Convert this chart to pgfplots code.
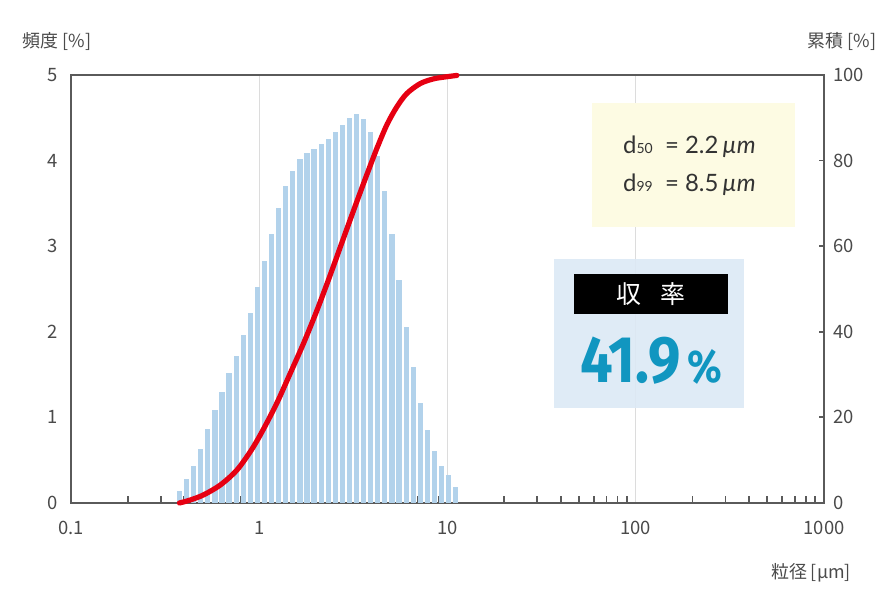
\documentclass[border=0pt]{standalone}
\usepackage{fontspec}
\usepackage{pgfplots}
\pgfplotsset{compat=1.18}
\setmainfont{Noto Sans CJK JP}
\newfontfamily\latofont{Lato}
\newfontfamily\numfont{Fira Sans}[FakeStretch=0.88]
\definecolor{axisgray}{HTML}{5A5A5A}
\definecolor{textgray}{HTML}{4A4A4A}
\definecolor{gridgray}{HTML}{DCDCDC}
\definecolor{barblue}{HTML}{B2D2EB}
\definecolor{curvered}{HTML}{E60012}
\definecolor{boxyellow}{HTML}{FDFBE3}
\definecolor{boxblue}{HTML}{DCE9F5}
\definecolor{teal}{HTML}{1196C0}

% frequency per size class (bar centre in um, frequency in %)
\pgfplotstableread{
x      f
0.3772 0.14
0.4113 0.28
0.4485 0.43
0.4891 0.63
0.5333 0.86
0.5815 1.09
0.6341 1.30
0.6914 1.52
0.7540 1.72
0.8222 1.96
0.8966 2.22
0.9779 2.52
1.0663 2.83
1.1628 3.14
1.2680 3.45
1.3827 3.70
1.5077 3.88
1.6444 4.02
1.7930 4.09
1.9554 4.14
2.1323 4.19
2.3252 4.25
2.5351 4.33
2.7645 4.42
3.0147 4.50
3.2869 4.54
3.5849 4.49
3.9089 4.33
4.2628 4.05
4.6484 3.65
5.0686 3.14
5.5271 2.61
6.0270 2.06
6.5723 1.59
7.1664 1.17
7.8163 0.85
8.5231 0.61
9.2935 0.43
10.134 0.33
11.051 0.19
}\freqtable

% cumulative curve (um, %)
\pgfplotstableread{
x     c
0.377 0.0
0.430 0.7
0.506 1.9
0.621 4.2
0.761 7.7
0.915 12.6
1.054 17.3
1.242 23.4
1.461 30.3
1.719 37.3
2.025 45.0
2.384 53.3
2.863 63.0
3.304 70.5
3.735 76.8
4.220 82.9
4.768 88.4
5.389 92.6
6.089 95.7
7.166 98.0
8.434 99.1
9.933 99.6
11.22 99.9
}\cumtable

\begin{document}
\begin{tikzpicture}
\useasboundingbox (0bp,0bp) rectangle (896bp,613bp);

\begin{axis}[
  at={(71bp,110bp)}, anchor=south west, scale only axis,
  width=753bp, height=428bp,
  xmode=log, xmin=0.1, xmax=1000, ymin=0, ymax=5,
  xtick={0.1,1,10,100,1000},
  xticklabels={0.1,1,10,100,1000},
  minor xtick={0.2,0.3,0.4,0.5,0.6,0.7,0.8,0.9,2,3,4,5,6,7,8,9,20,30,40,50,60,70,80,90,200,300,400,500,600,700,800,900},
  ytick={0,1,2,3,4,5},
  xtick pos=bottom, ytick pos=left,
  tick align=inside,
  major tick length=0pt, minor tick length=7bp,
  xmajorgrids, major grid style={draw=gridgray, line width=1.4bp},
  axis line style={draw=axisgray, line width=1.8bp},
  every tick/.style={draw=axisgray, line width=1.8bp},
  every minor tick/.style={draw=axisgray, line width=1.8bp},
  tick label style={font=\fontsize{18.5}{18.5}\selectfont, text=textgray},
  xticklabel style={yshift=-15bp},
  yticklabel style={xshift=-10bp},
  /pgf/number format/assume math mode=true,
]
\addplot[ycomb, draw=barblue, line width=5.2bp, mark=none] table[x=x, y=f] {\freqtable};
\end{axis}

\begin{axis}[
  at={(71bp,110bp)}, anchor=south west, scale only axis,
  width=753bp, height=428bp,
  xmode=log, xmin=0.1, xmax=1000, ymin=0, ymax=100,
  axis x line=none, axis y line*=right,
  ytick={0,20,40,60,80,100},
  tick align=inside, major tick length=5bp,
  axis line style={draw=axisgray, line width=1.8bp, -},
  every tick/.style={draw=axisgray, line width=1.8bp},
  tick label style={font=\fontsize{18.5}{18.5}\selectfont, text=textgray},
  yticklabel style={xshift=6bp},
  /pgf/number format/assume math mode=true,
  clip=false,
]
\addplot[draw=curvered, line width=5.2bp, smooth, mark=none, line cap=round] table[x=x, y=c] {\cumtable};
\end{axis}

% axis titles
\node[text=textgray, font=\fontsize{18}{18}\selectfont] at (57bp,572bp) {頻度 [\%]};
\node[text=textgray, font=\fontsize{18}{18}\selectfont] at (842bp,572bp) {累積 [\%]};
\node[text=textgray, font=\fontsize{18}{18}\selectfont] at (811bp,40bp) {粒径 [µm]};

% d50 / d99 box
\fill[boxyellow] (592bp,386bp) rectangle (795bp,510bp);
\node[anchor=base west, text=black!80, font=\latofont\fontsize{24}{24}\selectfont, inner sep=0pt] at (623bp,459bp)
  {d{\fontsize{14}{14}\selectfont 50}\ \ = 2.2\,\textit{µm}};
\node[anchor=base west, text=black!80, font=\latofont\fontsize{24}{24}\selectfont, inner sep=0pt] at (623bp,421bp)
  {d{\fontsize{14}{14}\selectfont 99}\ \ = 8.5\,\textit{µm}};

% yield box
\fill[boxblue, opacity=0.9] (554bp,205bp) rectangle (744bp,354bp);
\fill[black] (574bp,299bp) rectangle (728bp,339bp);
\node[text=white, font=\fontsize{25}{25}\selectfont] at (651bp,319bp) {収\hspace{0.8em}率};
\node[anchor=base west, text=teal, font=\numfont\bfseries\fontsize{66}{66}\selectfont, inner sep=0pt] at (580bp,230bp) {41.9};
\node[anchor=base west, text=teal, font=\numfont\bfseries\fontsize{46}{46}\selectfont, inner sep=0pt] at (687bp,230bp) {\%};
\end{tikzpicture}
\end{document}
